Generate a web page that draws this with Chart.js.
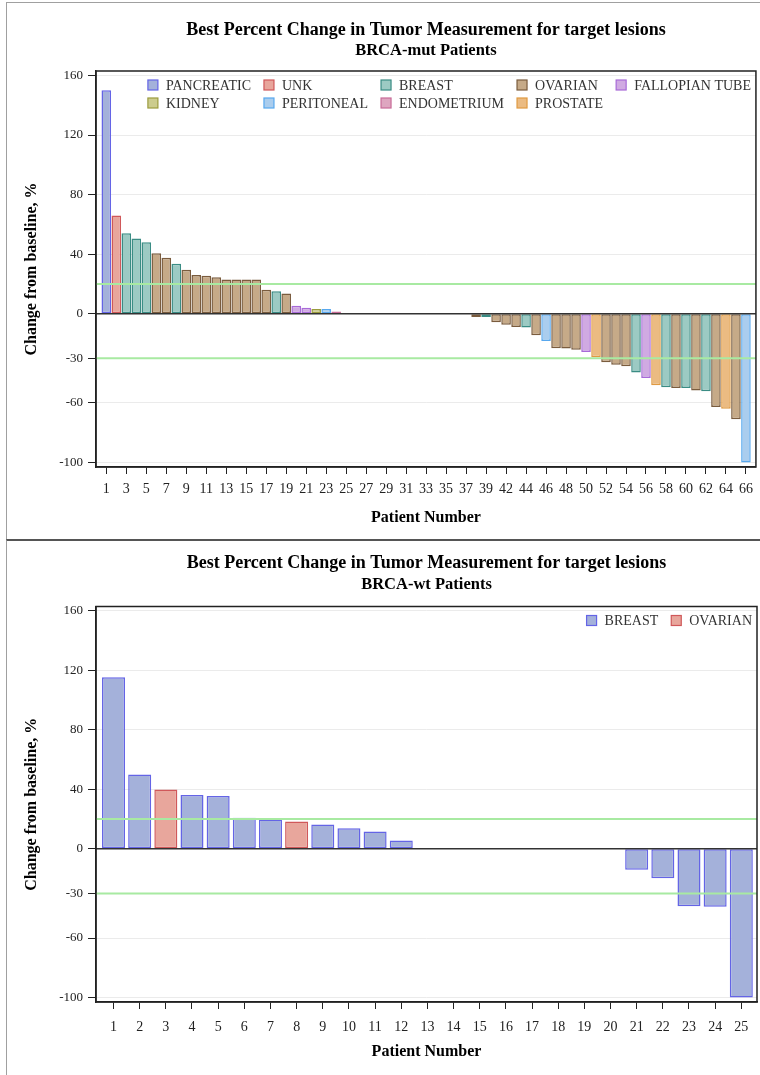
<!DOCTYPE html>
<html>
<head>
<meta charset="utf-8">
<script src="https://cdn.jsdelivr.net/npm/chart.js@4.4.1/dist/chart.umd.min.js"></script>
<style>
  body { margin: 0; background: #fff; }
  #page { position: relative; width: 760px; height: 1075px; overflow: hidden; background: #fff; }
  .panel { position: absolute; left: 6px; width: 754px; border-left: 1px solid #a0a0a0; }
  #topPanel { top: 2px; height: 537px; border-top: 1px solid #a0a0a0; }
  #bottomPanel { top: 539px; height: 536px; border-top: 2px solid #555; }
  canvas { position: absolute; }
  #mutChart { left: 8px; top: 4px; }
  #wtChart { left: 8px; top: 543px; }
</style>
</head>
<body>
<div id="page">
  <div class="panel" id="topPanel"></div>
  <div class="panel" id="bottomPanel"></div>
  <canvas id="mutChart" width="752" height="534"></canvas>
  <canvas id="wtChart" width="752" height="530"></canvas>
</div>
<script>
// BRCA-mut patients: patient number, tumour type, best % change
const mutPatients = [1, 2, 3, 4, 5, 6, 7, 8, 9, 10, 11, 12, 13, 14, 15, 16, 17, 18, 19, 20,
  21, 22, 23, 24, 25, 26, 27, 28, 29, 30, 31, 32, 33, 34, 35, 36, 37, 38, 39, 40,
  42, 43, 44, 45, 46, 47, 48, 49, 50, 51, 52, 53, 54, 55, 56, 57, 58, 59, 60, 61,
  62, 63, 64, 65, 66];
const mutTypes = ['PANCREATIC', 'UNK', 'BREAST', 'BREAST', 'BREAST', 'OVARIAN', 'OVARIAN', 'BREAST',
  'OVARIAN', 'OVARIAN', 'OVARIAN', 'OVARIAN', 'OVARIAN', 'OVARIAN', 'OVARIAN', 'OVARIAN',
  'OVARIAN', 'BREAST', 'OVARIAN', 'FALLOPIAN TUBE', 'FALLOPIAN TUBE', 'KIDNEY', 'PERITONEAL',
  'ENDOMETRIUM', 'OVARIAN', 'OVARIAN', 'BREAST', 'OVARIAN', 'OVARIAN', 'PERITONEAL', 'OVARIAN',
  'PANCREATIC', 'FALLOPIAN TUBE', 'OVARIAN', 'OVARIAN', 'OVARIAN', 'OVARIAN', 'OVARIAN', 'BREAST',
  'OVARIAN', 'OVARIAN', 'OVARIAN', 'BREAST', 'OVARIAN', 'PERITONEAL', 'OVARIAN', 'OVARIAN',
  'OVARIAN', 'FALLOPIAN TUBE', 'PROSTATE', 'OVARIAN', 'OVARIAN', 'OVARIAN', 'BREAST',
  'FALLOPIAN TUBE', 'PROSTATE', 'BREAST', 'OVARIAN', 'BREAST', 'OVARIAN', 'BREAST', 'OVARIAN',
  'PROSTATE', 'OVARIAN', 'PERITONEAL'];
const mutChange = [150, 66, 54, 50.5, 48, 40.5, 37.5, 33.5, 29.5, 26, 25.5, 24.5, 23, 23, 23, 23,
  16, 15, 13.5, 5.3, 4, 3.2, 3.2, 1.5, 0, 0, 0, 0, 0, 0, 0, 0, 0, 0, 0, 0, 0, -2.3, -2.3, -5.7,
  -7.5, -8.9, -9.3, -14.5, -18.3, -23.2, -23.4, -24.3, -25.7, -29.2, -32.6, -34.4, -35.3, -39.5,
  -43.2, -48.1, -49.4, -49.9, -49.9, -51.6, -52.1, -62.7, -63.8, -70.9, -100];
const mutTypeOrder = ['PANCREATIC', 'UNK', 'BREAST', 'OVARIAN', 'FALLOPIAN TUBE',
  'KIDNEY', 'PERITONEAL', 'ENDOMETRIUM', 'PROSTATE'];

// BRCA-wt patients
const wtPatients = [1, 2, 3, 4, 5, 6, 7, 8, 9, 10, 11, 12, 13, 14, 15, 16, 17, 18, 19, 20, 21, 22, 23, 24, 25];
const wtTypes = ['BREAST', 'BREAST', 'OVARIAN', 'BREAST', 'BREAST', 'BREAST', 'BREAST', 'OVARIAN',
  'BREAST', 'BREAST', 'BREAST', 'BREAST', 'BREAST', 'BREAST', 'BREAST', 'BREAST', 'BREAST',
  'BREAST', 'OVARIAN', 'BREAST', 'BREAST', 'BREAST', 'BREAST', 'BREAST', 'BREAST'];
const wtChange = [115.5, 50, 40, 36.3, 35.6, 21, 19.7, 18.4, 16.3, 13.9, 11.6, 5.6,
  0, 0, 0, 0, 0, 0, 0, 0, -14.1, -19.7, -38.6, -39, -100];
const wtTypeOrder = ['BREAST', 'OVARIAN'];

// axis ticks and reference lines
const yTicks = [160, 120, 80, 40, 0, -30, -60, -100];
const refLines = [20, -30];

// group colours in order of appearance
const palette = [
  { fill: '#a4b1da', line: '#6464e6' },
  { fill: '#e8a69c', line: '#d0585a' },
  { fill: '#9ccac3', line: '#3a8c84' },
  { fill: '#c6aa88', line: '#7a5c3e' },
  { fill: '#d0aae2', line: '#a86ad8' },
  { fill: '#cccc8e', line: '#9b9b3e' },
  { fill: '#aacdee', line: '#58a8ee' },
  { fill: '#dea6c0', line: '#c86c98' },
  { fill: '#ebbb82', line: '#e09a42' }
];

Chart.defaults.font.family = "'Liberation Serif', 'Times New Roman', serif";
Chart.defaults.color = '#222';

// one dataset per tumour type, bars placed at their position in the patient list
function makeDatasets(types, values, order, barPct) {
  return order.map((t, i) => {
    const pts = [];
    values.forEach((v, j) => { if (types[j] === t) pts.push({ x: j + 1, y: v }); });
    return {
      label: t,
      data: pts,
      grouped: false,
      backgroundColor: palette[i].fill,
      borderColor: palette[i].line,
      borderWidth: 1.5,
      borderSkipped: false,
      barPercentage: barPct,
      categoryPercentage: 1
    };
  });
}

// reference lines, zero line, frame and the legend inside the plot
const overlayPlugin = {
  id: 'overlay',
  afterDatasetsDraw(chart, args, opts) {
    const { ctx, chartArea: a, scales: { y } } = chart;
    ctx.save();
    ctx.lineWidth = 2;
    ctx.strokeStyle = '#a8eaa2';
    refLines.forEach(v => {
      const py = y.getPixelForValue(v);
      ctx.beginPath(); ctx.moveTo(a.left, py); ctx.lineTo(a.right, py); ctx.stroke();
    });
    const zy = y.getPixelForValue(0);
    ctx.lineWidth = 1.5;
    ctx.strokeStyle = '#333';
    ctx.beginPath(); ctx.moveTo(a.left, zy); ctx.lineTo(a.right, zy); ctx.stroke();
    ctx.strokeStyle = '#222';
    ctx.strokeRect(a.left, a.top, a.right - a.left, a.bottom - a.top);

    // legend
    const items = chart.data.datasets;
    const cols = opts.columns;
    ctx.font = "14px 'Liberation Serif', 'Times New Roman', serif";
    const colW = [];
    items.forEach((d, i) => {
      const c = i % cols;
      const w = 18 + ctx.measureText(d.label).width;
      colW[c] = Math.max(colW[c] || 0, w);
    });
    const gap = 13;
    const total = colW.reduce((s, w) => s + w, 0) + gap * (colW.length - 1);
    const x0 = a.right - 5 - total;
    ctx.textBaseline = 'middle';
    ctx.textAlign = 'left';
    items.forEach((d, i) => {
      const c = i % cols, r = Math.floor(i / cols);
      let x = x0;
      for (let k = 0; k < c; k++) x += colW[k] + gap;
      const yc = a.top + 14 + r * 18;
      ctx.fillStyle = d.backgroundColor;
      ctx.fillRect(x, yc - 5, 10, 10);
      ctx.lineWidth = 1.2;
      ctx.strokeStyle = d.borderColor;
      ctx.strokeRect(x, yc - 5, 10, 10);
      ctx.fillStyle = '#333';
      ctx.fillText(d.label, x + 18, yc + 1);
    });
    ctx.restore();
  }
};

function makeChart(id, labels, types, values, order, opt) {
  return new Chart(document.getElementById(id), {
    type: 'bar',
    data: { datasets: makeDatasets(types, values, order, opt.barPct) },
    plugins: [overlayPlugin],
    options: {
      responsive: false,
      animation: false,
      layout: { padding: { left: 0, right: 3, top: 0, bottom: 0 } },
      plugins: {
        legend: { display: false },
        tooltip: { enabled: false },
        overlay: { columns: opt.columns },
        title: {
          display: true, fullSize: false,
          text: 'Best Percent Change in Tumor Measurement for target lesions',
          font: { size: 18, weight: 'bold' }, color: '#000',
          padding: { top: opt.titleTop, bottom: 0 }
        },
        subtitle: {
          display: true, fullSize: false,
          text: opt.subtitle,
          font: { size: 16.5, weight: 'bold' }, color: '#000',
          padding: { top: opt.subTop, bottom: opt.subBottom }
        }
      },
      scales: {
        x: {
          type: 'linear',
          offset: false,
          min: opt.xMin, max: opt.xMax,
          afterBuildTicks: s => {
            s.ticks = labels.map((p, i) => ({ value: i + 1 })).filter((t, i) => i % opt.step === 0);
          },
          afterFit: s => { s.height = 71; },
          ticks: {
            autoSkip: false, maxRotation: 0, font: { size: 14 }, color: '#222', padding: opt.xPad,
            callback: v => labels[Math.round(v) - 1]
          },
          grid: { offset: false, drawOnChartArea: false, tickColor: '#222', tickLength: 7 },
          border: { color: '#222', width: 1.5 },
          title: {
            display: true, text: 'Patient Number', color: '#000',
            font: { size: 16, weight: 'bold' }, padding: { top: 0, bottom: opt.xTitleBottom }
          }
        },
        y: {
          min: -103, max: 163,
          afterBuildTicks: s => { s.ticks = yTicks.map(v => ({ value: v })); },
          afterFit: s => { s.width = 88; },
          ticks: { font: { size: 13 }, color: '#222', padding: 5 },
          grid: {
            color: c => (c.tick && c.tick.value === 0) ? 'rgba(0,0,0,0)' : '#ebebeb',
            tickColor: '#222', tickLength: 8
          },
          border: { color: '#222', width: 1.5 },
          title: {
            display: true, text: 'Change from baseline, %', color: '#000',
            font: { size: 16, weight: 'bold' }, padding: { top: 14, bottom: 0 }
          }
        }
      }
    }
  });
}

makeChart('mutChart', mutPatients, mutTypes, mutChange, mutTypeOrder, {
  barPct: 0.96, step: 2, columns: 5, subtitle: 'BRCA-mut Patients',
  xMin: -0.03, xMax: 66, xPad: 7,
  titleTop: 15.2, subTop: 0, subBottom: 10.4, xTitleBottom: 10.4
});
makeChart('wtChart', wtPatients, wtTypes, wtChange, wtTypeOrder, {
  barPct: 0.88, step: 1, columns: 2, subtitle: 'BRCA-wt Patients',
  xMin: 0.33, xMax: 25.6, xPad: 10,
  titleTop: 9.2, subTop: 1.3, subBottom: 11.6, xTitleBottom: 11.4
});
</script>
</body>
</html>
